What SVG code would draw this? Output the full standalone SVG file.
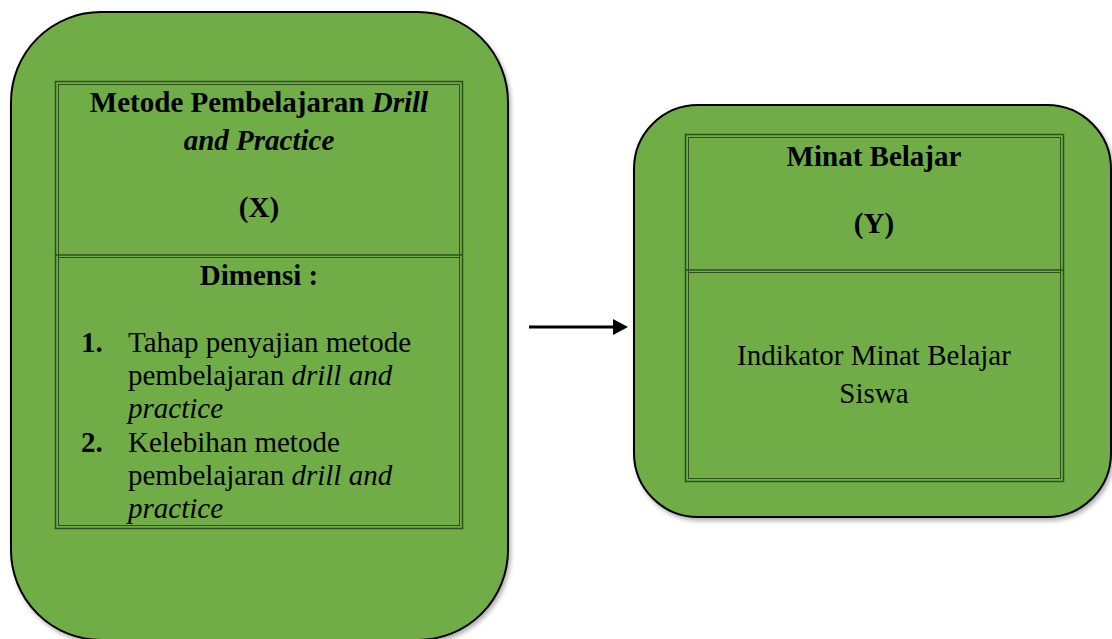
<svg xmlns="http://www.w3.org/2000/svg" width="1112" height="639" viewBox="0 0 1112 639">
<style>
.outer{fill:#70AD47;stroke:#000;stroke-width:2}
.tb{fill:none;stroke:#2F4F1F;stroke-width:1.5}
.tbi{fill:none;stroke:#2F4F1F;stroke-width:1}
text{font-family:"Liberation Serif","Times New Roman",serif;font-size:29px;fill:#000}
.b{font-weight:bold}
.i{font-style:italic}
.c{text-anchor:middle}
</style>
<defs>
<filter id="sh" x="-10%" y="-10%" width="120%" height="120%">
<feDropShadow dx="2" dy="3" stdDeviation="2" flood-color="#000" flood-opacity="0.3"/>
</filter>
<marker id="arr" viewBox="0 0 15 16" markerWidth="15" markerHeight="16" refX="0" refY="8" orient="auto" markerUnits="userSpaceOnUse">
<path d="M0,0 L15,8 L0,16 Z" fill="#000"/>
</marker>
</defs>
<g id="nodeX">
<rect class="outer" x="11" y="12" width="497" height="628" rx="90" ry="90" filter="url(#sh)"/>
<rect class="tb" x="55.5" y="81.5" width="407" height="447"/>
<rect class="tbi" x="58.5" y="84.5" width="401" height="441"/>
<line class="tb" x1="55.5" y1="255" x2="462.5" y2="255"/>
<line class="tbi" x1="58.5" y1="257.5" x2="459.5" y2="257.5"/>
<text class="b c" x="259" y="112">Metode Pembelajaran <tspan class="i">Drill</tspan></text>
<text class="b i c" x="259" y="150">and Practice</text>
<text class="b c" x="259" y="217">(X)</text>
<text class="b c" x="259" y="285">Dimensi :</text>
<text class="b" x="81" y="352">1.</text>
<text x="128" y="352">Tahap penyajian metode</text>
<text x="128" y="385">pembelajaran <tspan class="i">drill and</tspan></text>
<text class="i" x="128" y="418">practice</text>
<text class="b" x="81" y="452">2.</text>
<text x="128" y="452">Kelebihan metode</text>
<text x="128" y="485">pembelajaran <tspan class="i">drill and</tspan></text>
<text class="i" x="128" y="518">practice</text>
</g>
<g id="nodeY">
<rect class="outer" x="634" y="105" width="477" height="412" rx="64" ry="64" filter="url(#sh)"/>
<rect class="tb" x="685.5" y="134.5" width="378" height="347"/>
<rect class="tbi" x="688.5" y="137.5" width="372" height="341"/>
<line class="tb" x1="685.5" y1="270" x2="1063.5" y2="270"/>
<line class="tbi" x1="688.5" y1="272.5" x2="1060.5" y2="272.5"/>
<text class="b c" x="874" y="166">Minat Belajar</text>
<text class="b c" x="874" y="233">(Y)</text>
<text class="c" x="874" y="365">Indikator Minat Belajar</text>
<text class="c" x="874" y="403">Siswa</text>
</g>
<g id="connectors">
<line x1="529" y1="327" x2="613" y2="327" stroke="#000" stroke-width="3" marker-end="url(#arr)"/>
</g>
</svg>
